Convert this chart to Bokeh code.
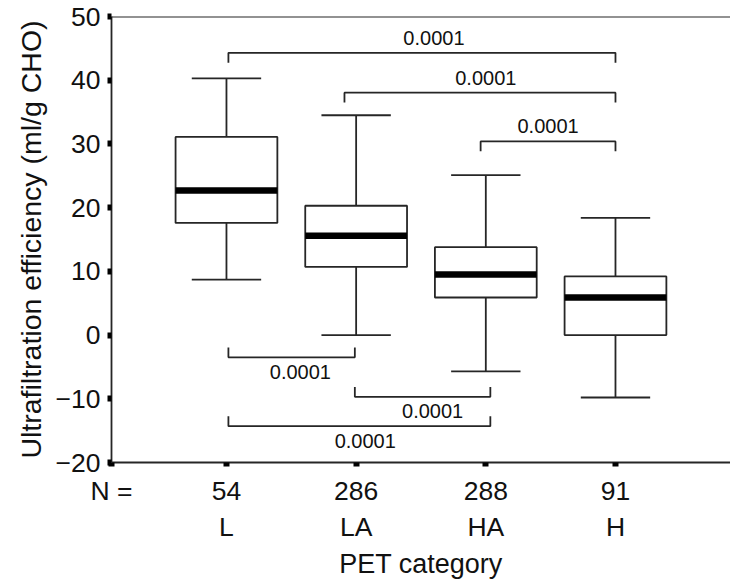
from bokeh.plotting import figure
from bokeh.models import FixedTicker, Span
from bokeh.embed import file_html
from bokeh.resources import INLINE
from bokeh.core.properties import value

# ---- data ----
categories = ["L", "LA", "HA", "H"]
n_counts = [54, 286, 288, 91]
whisker_low = [8.7, 0.0, -5.7, -9.8]
q1 = [17.6, 10.7, 5.9, 0.0]
median = [22.7, 15.6, 9.5, 5.9]
q3 = [31.1, 20.3, 13.8, 9.2]
whisker_high = [40.3, 34.5, 25.1, 18.4]
y_ticks = [-20, -10, 0, 10, 20, 30, 40, 50]
p_values = ["0.0001", "0.0001", "0.0001", "0.0001", "0.0001", "0.0001"]
n_row_label = "N ="

FONT = "Liberation Sans"
INK = "#262626"
TXT = "#111111"

xs = [i + 1 for i in range(len(categories))]
X_START, X_END = 0.1134, 4.887

p = figure(width=730, height=583, x_range=(X_START, X_END), y_range=(-20, 50),
           output_backend="svg", toolbar_location=None,
           min_border_left=111, min_border_right=0, min_border_top=16, min_border_bottom=121)
p.xgrid.visible = False
p.ygrid.visible = False
p.outline_line_color = None
p.background_fill_color = "white"
p.border_fill_color = "white"

# top frame line
p.add_layout(Span(location=50, dimension="width", line_color=INK, line_width=1.8))

# ---- boxes ----
box_w = 0.785
cap_w = 0.535
lw = 1.8
p.segment(x0=xs, y0=q3, x1=xs, y1=whisker_high, line_color=INK, line_width=lw)
p.segment(x0=xs, y0=q1, x1=xs, y1=whisker_low, line_color=INK, line_width=lw)
p.segment(x0=[x - cap_w / 2 for x in xs], y0=whisker_high,
          x1=[x + cap_w / 2 for x in xs], y1=whisker_high, line_color=INK, line_width=lw)
p.segment(x0=[x - cap_w / 2 for x in xs], y0=whisker_low,
          x1=[x + cap_w / 2 for x in xs], y1=whisker_low, line_color=INK, line_width=lw)
p.vbar(x=xs, top=q3, bottom=q1, width=box_w, fill_color="white",
       line_color=INK, line_width=lw)
p.segment(x0=[x - box_w / 2 for x in xs], y0=median,
          x1=[x + box_w / 2 for x in xs], y1=median, line_color="black", line_width=6.5)

# ---- significance brackets ----
# (x start, x end, bracket y, tick direction, label x, label y)
brackets = [
    (1.015, 4.0, 44.3, -1, 2.60, 46.7),
    (1.91, 4.0, 38.05, -1, 3.0, 40.4),
    (2.96, 4.0, 30.4, -1, 3.48, 32.8),
    (1.015, 1.99, -3.5, 1, 1.57, -5.8),
    (1.99, 3.035, -9.7, 1, 2.59, -11.9),
    (1.015, 3.035, -14.3, 1, 2.07, -16.7),
]
tick_len = 1.55
bx, by, lx, ly = [], [], [], []
for (a, b, y, d, tx, ty) in brackets:
    bx.append([a, a, b, b])
    by.append([y + d * tick_len, y, y, y + d * tick_len])
    lx.append(tx)
    ly.append(ty)
p.multi_line(xs=bx, ys=by, line_color=INK, line_width=lw)
p.text(x=lx, y=ly, text=p_values, text_align="center", text_baseline="middle",
       text_font=value(FONT), text_font_size="20px", text_color=TXT)

# ---- axes ----
p.yaxis.ticker = FixedTicker(ticks=y_ticks)
p.yaxis.major_label_overrides = {t: (("\u2212" + str(-t)) if t < 0 else str(t)) for t in y_ticks}
p.yaxis.axis_label = "Ultrafiltration efficiency (ml/g CHO)"
p.xaxis.ticker = FixedTicker(ticks=[X_START] + xs)
overrides = {x: f"{n}\n{c}" for x, n, c in zip(xs, n_counts, categories)}
overrides[X_START] = n_row_label + "\n"
p.xaxis.major_label_overrides = overrides
p.xaxis.axis_label = "PET category"

for ax in (p.xaxis, p.yaxis):
    ax.axis_line_color = INK
    ax.axis_line_width = 1.8
    ax.major_tick_in = 0
    ax.major_tick_out = 4
    ax.major_tick_line_width = 6
    ax.major_tick_line_color = "black"
    ax.minor_tick_line_color = None
    ax.major_label_text_font = FONT
    ax.major_label_text_font_size = "26.5px"
    ax.major_label_text_color = TXT
    ax.axis_label_text_font = FONT
    ax.axis_label_text_font_size = "27px"
    ax.axis_label_text_font_style = "normal"
    ax.axis_label_text_color = TXT

p.yaxis.axis_label_text_font_size = "28.5px"
p.yaxis.major_label_standoff = 7
p.xaxis.major_label_standoff = 9
p.yaxis.axis_label_standoff = 6
p.xaxis.axis_label_standoff = 4

open("out.html", "w").write(file_html(p, INLINE))
